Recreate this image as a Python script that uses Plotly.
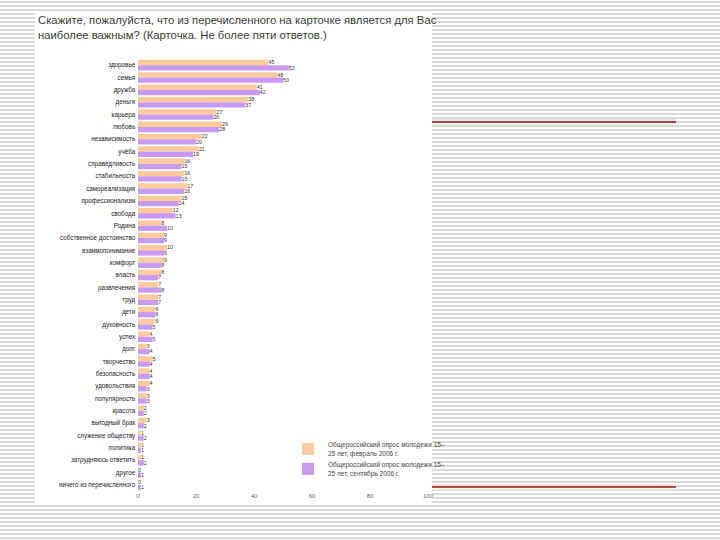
import plotly.graph_objects as go

categories = [
    "здоровье", "семья", "дружба", "деньги", "карьера", "любовь",
    "независимость", "учёба", "справедливость", "стабильность",
    "самореализация", "профессионализм", "свобода", "Родина",
    "собственное достоинство", "взаимопонимание", "комфорт", "власть",
    "развлечения", "труд", "дети", "духовность", "успех", "долг",
    "творчество", "безопасность", "удовольствия", "популярность",
    "красота", "выгодный брак", "служение обществу", "политика",
    "затрудняюсь ответить", "другое", "ничего из перечисленного",
]
series_2006_feb = [45, 48, 41, 38, 27, 29, 22, 21, 16, 16, 17, 15, 12, 8, 9,
                   10, 9, 8, 7, 7, 6, 6, 4, 3, 5, 4, 4, 3, 2, 3, 1, 1, 1, 0, 0]
series_2006_sep = [52, 50, 42, 37, 26, 28, 20, 19, 15, 15, 16, 14, 13, 10, 9,
                   9, 8, 7, 8, 7, 6, 5, 5, 4, 4, 4, 3, 3, 2, 2, 2, 1, 2, 1, 1]
series_names = [
    "Общероссийский опрос молодежи 15–<br>25 лет, февраль 2006 г.",
    "Общероссийский опрос молодежи 15–<br>25 лет, сентябрь 2006 г.",
]
x_ticks = [0, 20, 40, 60, 80, 100]

W, H = 720, 540
FONT = "Liberation Sans, Arial, sans-serif"
BOX_L, BOX_R, BOX_T, BOX_B = 35, 432, 12, 503

# --- slide background: striped lines outside the white chart box (page pixels)
sx, sy = [], []
y = 2.0
while y < H:
    if BOX_T <= y <= BOX_B:
        sx += [0, BOX_L, None, BOX_R, W, None]
        sy += [y, y, None, y, y, None]
    else:
        sx += [0, W, None]
        sy += [y, y, None]
    y += 4

fig = go.Figure()
fig.add_trace(go.Bar(
    y=categories, x=series_2006_feb, orientation="h", name=series_names[0],
    marker=dict(color="#FBCB9E", line=dict(width=0)),
    text=series_2006_feb, textposition="outside", cliponaxis=False,
    textfont=dict(size=6, color="#333333", family=FONT),
))
fig.add_trace(go.Bar(
    y=categories, x=series_2006_sep, orientation="h", name=series_names[1],
    marker=dict(color="#C79CEE", line=dict(width=0)),
    text=series_2006_sep, textposition="outside", cliponaxis=False,
    textfont=dict(size=6, color="#333333", family=FONT),
))
fig.add_trace(go.Scatter(
    x=sx, y=sy, xaxis="x2", yaxis="y2", mode="lines",
    line=dict(color="#cdcdcd", width=1.5), showlegend=False,
    hoverinfo="skip", connectgaps=False,
))

shapes = []
for yy in (122, 487):
    for dy, col, wd in ((-2, "#f1dcdc", 1.5), (2, "#faf1d8", 1.5), (0, "#8b1c1c", 1.6)):
        shapes.append(dict(type="line", xref="x2", yref="y2",
                           x0=BOX_R, x1=676, y0=yy + dy, y1=yy + dy,
                           line=dict(color=col, width=wd), layer="above"))

fig.update_layout(
    width=W, height=H,
    margin=dict(l=0, r=0, t=0, b=0),
    paper_bgcolor="white",
    plot_bgcolor="rgba(0,0,0,0)",
    barmode="group", bargap=0.14, bargroupgap=0,
    shapes=shapes,
    font=dict(family=FONT, size=6, color="#222222"),
    showlegend=True,
    legend=dict(x=288 / W, y=1 - 434 / H, xanchor="left", yanchor="top",
                bgcolor="rgba(0,0,0,0)", font=dict(size=6.5, color="#444444"),
                tracegroupgap=8, itemwidth=30),
    xaxis=dict(domain=[138 / W, 428 / W], range=[0, 100], tickvals=x_ticks,
               showgrid=False, zeroline=False, showline=False, automargin=False,
               tickfont=dict(size=6, color="#666666"), ticks=""),
    yaxis=dict(domain=[1 - 491 / H, 1 - 59 / H], autorange="reversed",
               showgrid=False, showline=False, automargin=False, ticks="",
               tickfont=dict(size=6.3, color="#222222"), ticksuffix=" "),
    xaxis2=dict(domain=[0, 1], range=[0, W], visible=False, fixedrange=True,
                anchor="y2", overlaying=None),
    yaxis2=dict(domain=[0, 1], range=[H, 0], visible=False, fixedrange=True,
                anchor="x2"),
    annotations=[dict(
        xref="paper", yref="paper", x=36 / W, y=1 - 12 / H,
        xanchor="left", yanchor="top", align="left", showarrow=False,
        text="Скажите, пожалуйста, что из перечисленного на карточке является для Вас<br>"
             "наиболее важным? (Карточка. Не более пяти ответов.)",
        font=dict(size=11.3, color="#3a3a3a", family=FONT),
    )],
)

fig.write_html(
    "out.html",
    config={"displayModeBar": False},
    post_script="document.body.style.margin='0';document.body.style.overflow='hidden';",
)
